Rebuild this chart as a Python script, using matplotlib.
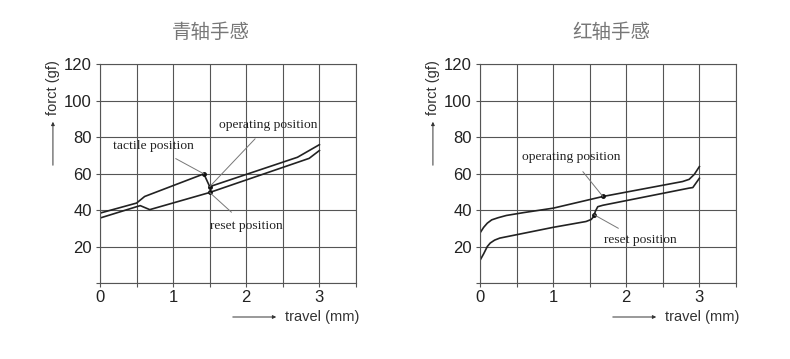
import numpy as np
import matplotlib.pyplot as plt
from matplotlib.patches import FancyArrowPatch

plt.rcParams['font.family'] = ['Liberation Sans', 'Noto Sans CJK SC']

titles = ["青轴手感", "红轴手感"]

# blue switch (青轴)
blue_press_x = [0, 0.5, 0.61, 1.42, 1.5, 2.7, 3.0]
blue_press_y = [38.3, 43.8, 47.4, 59.8, 52.8, 68.9, 75.8]
blue_release_x = [0, 0.5, 0.55, 0.68, 1.5, 2.86, 3.0]
blue_release_y = [35.6, 41.8, 42.4, 40.2, 49.6, 68.3, 72.6]

# red switch (红轴)
red_press_x = [0, 0.05, 0.1, 0.16, 0.25, 0.36, 0.6, 1.0, 1.68, 2.77, 2.86, 2.93, 3.0]
red_press_y = [27.4, 30.5, 32.8, 34.6, 35.8, 37.0, 38.6, 41.0, 47.4, 55.6, 56.8, 59.5, 63.8]
red_release_x = [0, 0.05, 0.1, 0.14, 0.2, 0.27, 1.0, 1.45, 1.52, 1.55, 1.58, 1.61, 1.68, 2.86, 2.91, 3.0]
red_release_y = [12.4, 16.0, 20.0, 21.9, 23.5, 24.6, 30.5, 33.7, 34.8, 36.2, 39.5, 41.8, 42.6, 52.0, 52.3, 57.4]

# annotation points: (label, point, text position)
blue_notes = [("tactile position", (1.42, 59.8), (0.73, 74.8)),
              ("operating position", (1.5, 52.8), (2.3, 86.6)),
              ("reset position", (1.5, 49.6), (2.0, 31.4))]
red_notes = [("operating position", (1.68, 47.4), (1.25, 68.8)),
             ("reset position", (1.56, 37.4), (2.19, 23.3))]

fig = plt.figure(figsize=(7.9, 3.59), dpi=100)
axes = [fig.add_axes([0.1266, 0.2117, 0.324, 0.61]),
        fig.add_axes([0.6076, 0.2117, 0.324, 0.61])]
title_x = [211 / 790, 611 / 790]

grid_c = '#555555'
data = [(blue_press_x, blue_press_y, blue_release_x, blue_release_y, blue_notes),
        (red_press_x, red_press_y, red_release_x, red_release_y, red_notes)]

for ax, title, tx, (px, py, rx, ry, notes) in zip(axes, titles, title_x, data):
    ax.plot(px, py, color='#222222', lw=1.2)
    ax.plot(rx, ry, color='#222222', lw=1.2)
    for label, pt, tp in notes:
        ax.plot(*pt, 'o', color='#111111', ms=2.5)
        ax.annotate(label, xy=pt, xytext=tp, ha='center', va='center',
                    fontsize=9.7, family='Liberation Serif', color='#222222',
                    arrowprops=dict(arrowstyle='-', color='#777777', lw=0.7,
                                    shrinkA=5, shrinkB=0))
    ax.set_xlim(0, 3.5)
    ax.set_ylim(0, 120)
    ax.set_xticks(np.arange(0, 3.51, 0.5))
    ax.set_xticklabels(['0', '', '1', '', '2', '', '3', ''])
    ax.set_yticks(np.arange(0, 121, 20))
    ax.set_yticklabels(['', '20', '40', '60', '80', '100', '120'])
    ax.grid(True, color=grid_c, lw=0.8)
    ax.tick_params(length=3, width=0.8, color=grid_c, labelsize=12,
                   labelcolor='#222222', pad=3)
    ax.tick_params(axis='x', pad=2)
    for s in ax.spines.values():
        s.set_color(grid_c)
        s.set_linewidth(0.8)
    fig.text(tx, 1 - 33 / 359, title, ha='center', va='center',
             fontsize=14, color='#777777')

# axis labels with arrows
for x0 in (0.067, 0.548):
    fig.text(x0, 0.755, "forct (gf)", rotation=90, ha='center', va='center',
             fontsize=10.5, color='#333333')
    fig.patches.append(FancyArrowPatch(
        (x0, 1 - 168 / 359), (x0, 1 - 119 / 359), transform=fig.transFigure,
        arrowstyle='-|>', mutation_scale=5, color='#333333', lw=0.7))

for x0 in (230 / 790, 610 / 790):
    fig.patches.append(FancyArrowPatch(
        (x0, 1 - 317 / 359), (x0 + 49 / 790, 1 - 317 / 359), transform=fig.transFigure,
        arrowstyle='-|>', mutation_scale=5, color='#333333', lw=0.7))
    fig.text(x0 + 55 / 790, 1 - 317 / 359, "travel (mm)", ha='left', va='center',
             fontsize=10.5, color='#333333')

fig.savefig('out.png', dpi=100)
